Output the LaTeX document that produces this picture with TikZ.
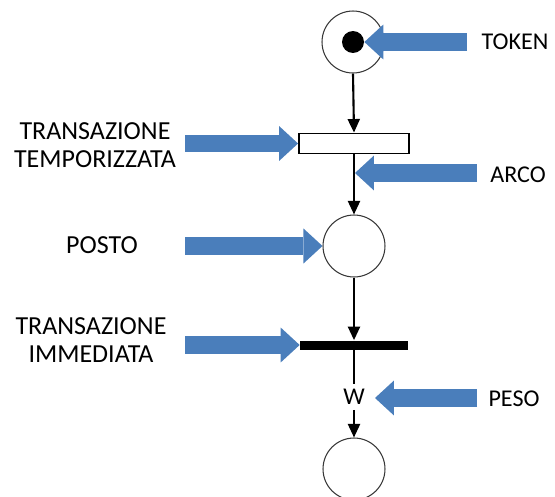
\documentclass[tikz,border=0pt]{standalone}
\usepackage{fontspec}
\setmainfont{Carlito}
\usetikzlibrary{arrows.meta}
\definecolor{pointerblue}{RGB}{74,126,187}
\definecolor{placeline}{RGB}{55,55,55}
\tikzset{
  place/.style={circle, draw=placeline, line width=0.6pt, fill=white, minimum size=1.24cm, inner sep=0pt},
  token/.style={circle, fill=black, minimum size=0.44cm, inner sep=0pt},
  timedtr/.style={rectangle, draw=black, line width=1.1pt, fill=white, minimum width=2.2cm, minimum height=0.4cm, inner sep=0pt},
  immtr/.style={rectangle, fill=black, minimum width=2.16cm, minimum height=0.18cm, inner sep=0pt},
  arc/.style={line width=1.2pt, -{Triangle[width=0.24cm, length=0.27cm]}},
  plainarc/.style={line width=1.2pt},
  pointer/.style={pointerblue, line width=0.36cm, -{Triangle[width=0.7cm, length=0.38cm, line width=0pt]}},
  leftlabel/.style={align=center, anchor=base, inner sep=0pt, font=\fontsize{14.8}{15.4}\selectfont},
  rightlabel/.style={anchor=base, inner sep=0pt, font=\fontsize{13.7}{16}\selectfont},
}
\begin{document}
\begin{tikzpicture}[x=0.02cm, y=-0.02cm]
  \useasboundingbox (0,0) rectangle (555,497);
  \clip (0,0) rectangle (555,497);

  % Petri net elements
  \node[place] (p0) at (353,42) {};
  \node[token] (tok) at (p0.center) {};
  \node[timedtr] (tt) at (354,143.5) {};
  \node[place] (p1) at (354,246) {};
  \node[immtr] (ti) at (354,345) {};
  \node[inner sep=0pt, minimum height=0.5cm, font=\fontsize{13.7}{16}\selectfont] (w) at (354,397) {W};
  \node[place] (p2) at (354,469) {};

  % arcs
  \draw[arc] (p0.south) -- (tt.north);
  \draw[arc] (tt.south) -- (p1.north);
  \draw[arc] (p1.south) -- (ti.north);
  \draw[plainarc] (ti.south) -- (w.north);
  \draw[arc] (w.south) -- (p2.north);

  % labels (two-line labels sit on the baseline of their last line)
  \node[rightlabel] (lTok) at (515,50) {TOKEN};
  \node[leftlabel] (lTT) at (95,167) {TRANSAZIONE\\TEMPORIZZATA};
  \node[rightlabel] (lArc) at (518,182) {ARCO};
  \node[leftlabel] (lPl) at (102,253) {POSTO};
  \node[leftlabel] (lTI) at (91,362) {TRANSAZIONE\\IMMEDIATA};
  \node[rightlabel] (lW) at (514,406) {PESO};

  % pointer tails and free tips
  \coordinate (sTok) at (467,42);
  \coordinate (sTT) at (185,143.5);
  \coordinate (sArc) at (477,173);
  \coordinate (tArc) at (355,173);
  \coordinate (sPl) at (185,246);
  \coordinate (sTI) at (185,345);
  \coordinate (sW) at (477,398);
  \coordinate (tW) at (375,398);

  % block pointers
  \draw[pointer] (sTok) -- (tok.east);
  \draw[pointer] (sTT) -- (tt.west);
  \draw[pointer] (sArc) -- (tArc);
  \draw[pointer] (sPl) -- (p1.west);
  \draw[pointer] (sTI) -- (ti.west);
  \draw[pointer] (sW) -- (tW);
\end{tikzpicture}
\end{document}
